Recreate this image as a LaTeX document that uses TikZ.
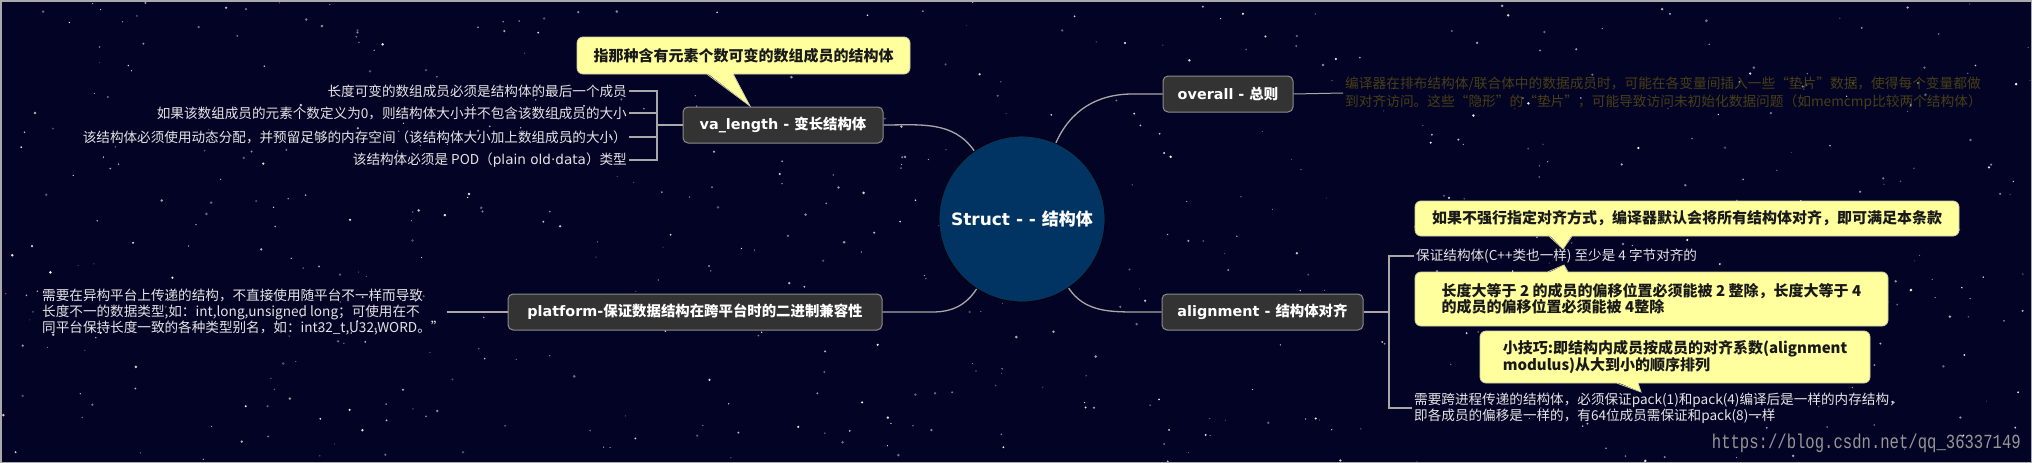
\documentclass[tikz,border=0pt]{standalone}
\usepackage{fontspec}
\setmainfont{Noto Sans CJK SC}
\newfontfamily\dvfont{DejaVu Sans}
\newfontfamily\wmfont{Liberation Mono}
\usetikzlibrary{calc}
\definecolor{bgc}{RGB}{3,3,38}
\definecolor{rootc}{RGB}{1,52,98}
\definecolor{boxfill}{RGB}{51,51,51}
\definecolor{boxline}{RGB}{140,140,140}
\definecolor{connc}{RGB}{168,168,168}
\definecolor{itemc}{RGB}{228,228,228}
\definecolor{ovc}{RGB}{72,63,20}
\definecolor{cfill}{RGB}{255,255,158}
\definecolor{cline}{RGB}{205,205,170}
\definecolor{ctext}{RGB}{25,25,25}
\definecolor{wmc}{RGB}{150,150,150}
\definecolor{framec}{RGB}{170,170,170}
\newcommand\mmboxfont{\fontsize{14.4}{17}\selectfont\bfseries}
\newcommand\mmitemfont{\fontsize{13.6}{16}\selectfont}
\newcommand\mmovfont{\fontsize{13.7}{18}\selectfont}
\newcommand\mmcallfont{\fontsize{15}{16}\selectfont\bfseries}
\tikzset{
  mbox/.style={rounded corners=5pt, fill=boxfill, draw=boxline, line width=1pt, text=white, inner sep=0pt, minimum height=36pt, font=\mmboxfont},
  conn/.style={draw=connc, line width=1.3pt},
  brk/.style={draw=connc, line width=1.1pt},
  itemtext/.style={text=itemc, font=\mmitemfont, align=left, inner xsep=2pt, inner ysep=0pt},
  callbox/.style={rounded corners=6pt, fill=cfill, draw=cline, line width=0.8pt, text=ctext, font=\mmcallfont, inner sep=0pt, align=left},
  tailfill/.style={fill=cfill},
  tailline/.style={draw=cline, line width=0.8pt},
}
\begin{document}
\begin{tikzpicture}[x=1pt,y=1pt]
\useasboundingbox (0,0) rectangle (2032,-463);
\fill[bgc] (0,0) rectangle (2032,-463);
% stars
\pgfmathsetseed{4242}
\foreach \i in {1,...,600}{
  \pgfmathsetmacro\sx{2032*rnd}
  \pgfmathsetmacro\sy{-463*rnd}
  \pgfmathsetmacro\sr{0.45+1.0*rnd}
  \pgfmathsetmacro\so{0.3+0.7*rnd}
  \fill[white, opacity=\so] (\sx,\sy) circle (\sr);
}
\draw[framec, line width=1.5pt] (0.75,-0.75) rectangle (2031.25,-462.25);

% root
\node[circle, fill=rootc, draw=black, line width=0.8pt, minimum size=166pt, inner sep=0pt, text=white,
      font=\fontsize{17}{20}\selectfont\bfseries] (root) at (1022,-219) {{\dvfont Struct - - }结构体};

% main boxes
\node[mbox, minimum width=200pt] (va) at (783,-125) {{\dvfont va\_length - }变长结构体};
\node[mbox, minimum width=130pt] (ov) at (1228,-94) {{\dvfont overall - }总则};
\node[mbox, minimum width=201pt] (al) at (1262.5,-312) {{\dvfont alignment - }结构体对齐};
\node[mbox, minimum width=374pt] (pf) at (695,-312) {{\dvfont platform-}保证数据结构在跨平台时的二进制兼容性};

% connectors root - boxes
\draw[conn] (root.125) to[out=125,in=0] (va.east);
\draw[conn] (root.66) to[out=66,in=180] ($(ov.west)+(-30,0)$) -- (ov.west);
\draw[conn] (root.-56) to[out=-56,in=180] ($(al.west)+(-22,0)$) -- (al.west);
\draw[conn] (root.-123) to[out=-123,in=0] ($(pf.east)+(50,0)$) -- (pf.east);

% va_length items
\node[itemtext, anchor=east] (v1) at (629,-91) {长度可变的数组成员必须是结构体的最后一个成员};
\node[itemtext, anchor=east] (v2) at (629,-113) {如果该数组成员的元素个数定义为0，则结构体大小并不包含该数组成员的大小};
\node[itemtext, anchor=east] (v3) at (629,-137) {该结构体必须使用动态分配，并预留足够的内存空间（该结构体大小加上数组成员的大小）};
\node[itemtext, anchor=east] (v4) at (629,-160) {该结构体必须是 POD（{\dvfont plain old·data}）类型};
\coordinate (vb) at (657,-125);
\draw[brk] (va.west) -- (vb);
\draw[brk] (v1.east) -- (v1.east -| vb) -- (v4.east -| vb) -- (v4.east);
\draw[brk] (v2.east) -- (v2.east -| vb);
\draw[brk] (v3.east) -- (v3.east -| vb);

% va callout
\node[callbox, align=center, minimum width=333pt, minimum height=37pt] (cva) at (743.5,-55.5) {指那种含有元素个数可变的数组成员的结构体};
\fill[tailfill] (707,-73) -- (750,-106) -- (733,-73) -- cycle;
\draw[tailline] (707,-74.2) -- (750,-106) -- (733,-74.2);

% overall text
\node[anchor=west, text=ovc, font=\mmovfont, align=left, inner xsep=2pt, inner ysep=0pt] (o1) at (1343,-93)
  {编译器在排布结构体/联合体中的数据成员时，可能在各变量间插入一些“垫片”数据，使得每个变量都做\\到对齐访问。这些“隐形”的“垫片”，可能导致访问未初始化数据问题（如memcmp比较两个结构体）};
\draw[conn, line width=1pt] (ov.east) -- (o1.west);

% alignment items
\node[itemtext, anchor=west] (a1) at (1414,-256) {保证结构体(C++类也一样) 至少是 4 字节对齐的};
\node[itemtext, anchor=west] (a2) at (1412,-408) {需要跨进程传递的结构体，必须保证pack(1)和pack(4)编译后是一样的内存结构，\\即各成员的偏移是一样的，有64位成员需保证和pack(8)一样};
\coordinate (ab) at (1389,-312);
\draw[brk] (al.east) -- (ab);
\draw[brk] (a1.west) -- (a1.west -| ab) -- (a2.west -| ab) -- (a2.west);

% alignment callouts
\node[callbox, align=center, minimum width=544pt, minimum height=35pt] (c1) at (1687,-218.5) {如果不强行指定对齐方式，编译器默认会将所有结构体对齐，即可满足本条款};
\fill[tailfill] (1549,-235) -- (1563,-249) -- (1572,-235) -- cycle;
\draw[tailline] (1549,-236.2) -- (1563,-249) -- (1572,-236.2);

\node[callbox, minimum width=473pt, minimum height=54pt] (c2) at (1651.5,-299) {长度大等于 2 的成员的偏移位置必须能被 2 整除，长度大等于 4\\的成员的偏移位置必须能被 4整除};
\fill[tailfill] (1548,-273) -- (1564,-265) -- (1568,-273) -- cycle;
\draw[tailline] (1548,-271.8) -- (1564,-265) -- (1568,-271.8);

\node[callbox, minimum width=390pt, minimum height=52pt] (c3) at (1675,-357) {小技巧:即结构内成员按成员的对齐系数(alignment\\modulus)从大到小的顺序排列};
\fill[tailfill] (1617,-382) -- (1641,-392) -- (1638,-382) -- cycle;
\draw[tailline] (1617,-383.2) -- (1641,-392) -- (1638,-383.2);

% platform text
\node[itemtext, anchor=west, text=itemc] (p1) at (40,-312) {需要在异构平台上传递的结构，不直接使用随平台不一样而导致\\长度不一的数据类型,如：int,long,unsigned long；可使用在不\\同平台保持长度一致的各种类型别名，如：int32\_t,U32,WORD。”};
\draw[brk] (p1.east) -- (pf.west);

% watermark
\node[anchor=east, text=wmc, inner sep=0pt] (wm) at (2021,-443) {\scalebox{0.78}[1]{\wmfont\fontsize{20}{22}\selectfont https://blog.csdn.net/qq\_36337149}};
\end{tikzpicture}
\end{document}
